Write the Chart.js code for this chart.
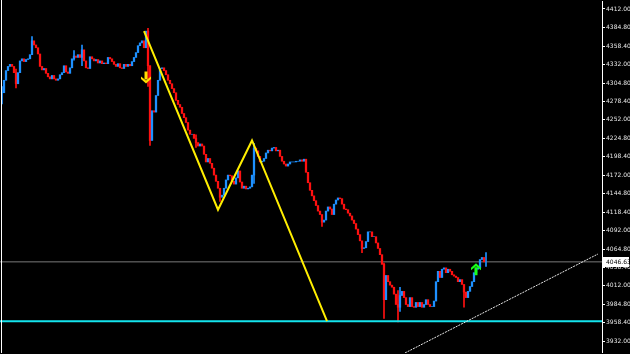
<!DOCTYPE html>
<html>
<head>
<meta charset="utf-8">
<script src="https://cdn.jsdelivr.net/npm/chart.js@4/dist/chart.umd.min.js"></script>
<style>
  html, body { margin: 0; padding: 0; background: #000; }
  #wrap { width: 630px; height: 354px; position: relative; }
</style>
</head>
<body>
<div id="wrap"><canvas id="chart"></canvas></div>
<script>
// closing prices, one bar every step
const closes = [
  4291, 4309, 4323, 4329, 4332, 4329, 4320, 4304, 4320, 4337,
  4340, 4336, 4339, 4340, 4346, 4366, 4360, 4356, 4347, 4329,
  4324, 4326, 4319, 4314, 4311, 4316, 4311, 4309, 4311, 4317,
  4320, 4330, 4321, 4319, 4327, 4340, 4344, 4342, 4346, 4342,
  4353, 4337, 4327, 4326, 4343, 4340, 4337, 4339, 4334, 4337,
  4333, 4334, 4333, 4342, 4340, 4336, 4332, 4329, 4333, 4327,
  4326, 4332, 4329, 4332, 4330, 4336, 4342, 4349, 4359, 4363,
  4366, 4356, 4380, 4330, 4222, 4265, 4263, 4287, 4309, 4326,
  4327, 4323, 4317, 4309, 4304, 4297, 4291, 4280, 4274, 4270,
  4261, 4255, 4248, 4237, 4231, 4231, 4225, 4219, 4214, 4217,
  4214, 4202, 4191, 4196, 4189, 4182, 4172, 4163, 4153, 4140,
  4143, 4153, 4165, 4172, 4171, 4163, 4159, 4168, 4178, 4162,
  4153, 4156, 4152, 4153, 4155, 4172, 4211, 4207, 4199, 4191,
  4192, 4196, 4204, 4208, 4207, 4211, 4212, 4207, 4208, 4199,
  4192, 4188, 4185, 4188, 4191, 4191, 4191, 4192, 4192, 4194,
  4192, 4195, 4176, 4161, 4150, 4142, 4135, 4128, 4120, 4115,
  4104, 4107, 4120, 4126, 4123, 4115, 4130, 4136, 4139, 4138,
  4130, 4123, 4122, 4117, 4113, 4107, 4102, 4094, 4086, 4077,
  4066, 4067, 4076, 4090, 4090, 4083, 4083, 4074, 4066, 4057,
  4043, 3992, 4027, 4018, 4013, 4010, 4000, 3985, 3981, 3998,
  4004, 3995, 3985, 3982, 3995, 3982, 3981, 3988, 3982, 3988,
  3981, 3985, 3992, 3985, 3982, 3982, 3990, 4018, 4033, 4024,
  4036, 4038, 4031, 4036, 4033, 4028, 4026, 4024, 4018, 4021,
  4014, 4003, 3995, 4004, 4011, 4018, 4031, 4036, 4038, 4050,
  4053, 4046.63
];

// the longer wicks that stand out: bar index, low, high
const wickIndex = [0, 7, 15, 36, 40, 73, 74, 97, 109, 126, 160, 180, 191, 198, 199, 231, 242];
const wickLow   = [4275, 4298, 4350, 4338, 4330, 4300, 4215, 4212, 4134, 4160, 4098, 4060, 3965, 3960, 3975, 3981, 4040];
const wickHigh  = [4300, 4325, 4372, 4352, 4360, 4384, 4330, 4230, 4150, 4218, 4112, 4072, 4045, 4005, 4010, 4006, 4060];

const tickValues = [
  4412.00, 4384.80, 4358.40, 4332.00, 4304.80, 4278.40, 4252.00,
  4224.80, 4198.40, 4172.00, 4144.80, 4118.40, 4092.00, 4064.80,
  4038.40, 4012.00, 3984.80, 3958.40, 3932.00
];

// yellow zigzag (bar index, price)
const zigzagX = [72, 109, 126, 163.5];
const zigzagY = [4380, 4122, 4222, 3961];

// dotted trend line
const trendX = [202.5, 299];
const trendY = [3915, 4058];

const supportLevel = 3961;

// signal arrows
const sellArrow = { x: 73, y: 4313 };
const buyArrow = { x: 238, y: 4036 };

const lastClose = closes[closes.length - 1];

const candles = closes.map((c, i) => ({ x: i + 1, y: [i ? closes[i - 1] : c, c] }));
const candleColors = closes.map((c, i) => (i && c < closes[i - 1]) ? '#ff1010' : '#1e90ff');
const wicks = wickIndex.map((i, k) => ({ x: i + 1, y: [wickLow[k], wickHigh[k]] }));
const wickColors = wickIndex.map(i => (i && closes[i] < closes[i - 1]) ? '#ff1010' : '#1e90ff');

function drawArrow(ctx, x, y, dir, color) {
  // dir = 1 points down, -1 points up
  ctx.save();
  ctx.translate(x, y);
  ctx.scale(1, dir);
  ctx.fillStyle = color;
  ctx.fillRect(-1.5, -6, 3, 8);
  ctx.beginPath();
  ctx.moveTo(-5, -1);
  ctx.lineTo(0, 3);
  ctx.lineTo(5, -1);
  ctx.lineTo(5, 1.5);
  ctx.lineTo(0, 6);
  ctx.lineTo(-5, 1.5);
  ctx.closePath();
  ctx.fill();
  ctx.restore();
}

const overlay = {
  id: 'overlay',
  afterDatasetsDraw(chart) {
    const { ctx, chartArea, scales } = chart;
    const xs = scales.x, ys = scales.y;
    drawArrow(ctx, xs.getPixelForValue(sellArrow.x), ys.getPixelForValue(sellArrow.y), 1, '#ffe000');
    drawArrow(ctx, xs.getPixelForValue(buyArrow.x), ys.getPixelForValue(buyArrow.y), -1, '#19ff19');

    // left frame line
    ctx.save();
    ctx.strokeStyle = '#ffffff';
    ctx.lineWidth = 1;
    ctx.beginPath();
    ctx.moveTo(chartArea.left + 1.5, 0);
    ctx.lineTo(chartArea.left + 1.5, chartArea.bottom);
    ctx.stroke();
    ctx.restore();
  },
  afterDraw(chart) {
    const { ctx, chartArea, scales } = chart;
    const py = Math.round(scales.y.getPixelForValue(lastClose));
    ctx.save();
    ctx.fillStyle = '#ffffff';
    ctx.fillRect(chartArea.right + 1, py - 5, 26, 10);
    ctx.fillStyle = '#000000';
    ctx.font = '6px "DejaVu Sans"';
    ctx.textBaseline = 'middle';
    ctx.fillText(lastClose.toFixed(2), chartArea.right + 4, py + 0.5);
    ctx.restore();
  }
};

new Chart(document.getElementById('chart'), {
  type: 'bar',
  data: {
    datasets: [
      {
        type: 'line',
        data: [{ x: 0, y: lastClose }, { x: 301, y: lastClose }],
        borderColor: '#7a7a7a',
        borderWidth: 1,
        pointRadius: 0,
        order: 6
      },
      {
        data: wicks,
        backgroundColor: wickColors,
        barThickness: 1,
        grouped: false,
        order: 5
      },
      {
        data: candles,
        backgroundColor: candleColors,
        barThickness: 1.6,
        grouped: false,
        order: 4
      },
      {
        type: 'line',
        data: [{ x: 0, y: supportLevel }, { x: 301, y: supportLevel }],
        borderColor: '#14e4ee',
        borderWidth: 2,
        pointRadius: 0,
        order: 3
      },
      {
        type: 'line',
        data: zigzagX.map((x, i) => ({ x, y: zigzagY[i] })),
        borderColor: '#ffee00',
        borderWidth: 2,
        pointRadius: 0,
        order: 2
      },
      {
        type: 'line',
        data: trendX.map((x, i) => ({ x, y: trendY[i] })),
        borderColor: '#e8e8e8',
        borderWidth: 1,
        borderDash: [2, 1],
        pointRadius: 0,
        order: 1
      }
    ]
  },
  options: {
    responsive: true,
    maintainAspectRatio: false,
    animation: false,
    layout: { padding: 0 },
    plugins: { legend: { display: false }, tooltip: { enabled: false } },
    scales: {
      x: {
        type: 'linear',
        min: 0,
        max: 301,
        offset: false,
        display: false
      },
      y: {
        position: 'right',
        min: 3915,
        max: 4423.5,
        afterBuildTicks: (scale) => { scale.ticks = tickValues.map(v => ({ value: v })); },
        afterFit: (scale) => { scale.width = 28; },
        border: { display: true, color: '#ffffff', width: 1 },
        grid: { drawOnChartArea: false, drawTicks: true, tickLength: 3, color: '#ffffff' },
        ticks: {
          color: '#e6e6e6',
          padding: 1,
          font: { family: 'DejaVu Sans', size: 6, lineHeight: 0.01 },
          callback: (v) => Number(v).toFixed(2)
        }
      }
    }
  },
  plugins: [overlay]
});
</script>
</body>
</html>
